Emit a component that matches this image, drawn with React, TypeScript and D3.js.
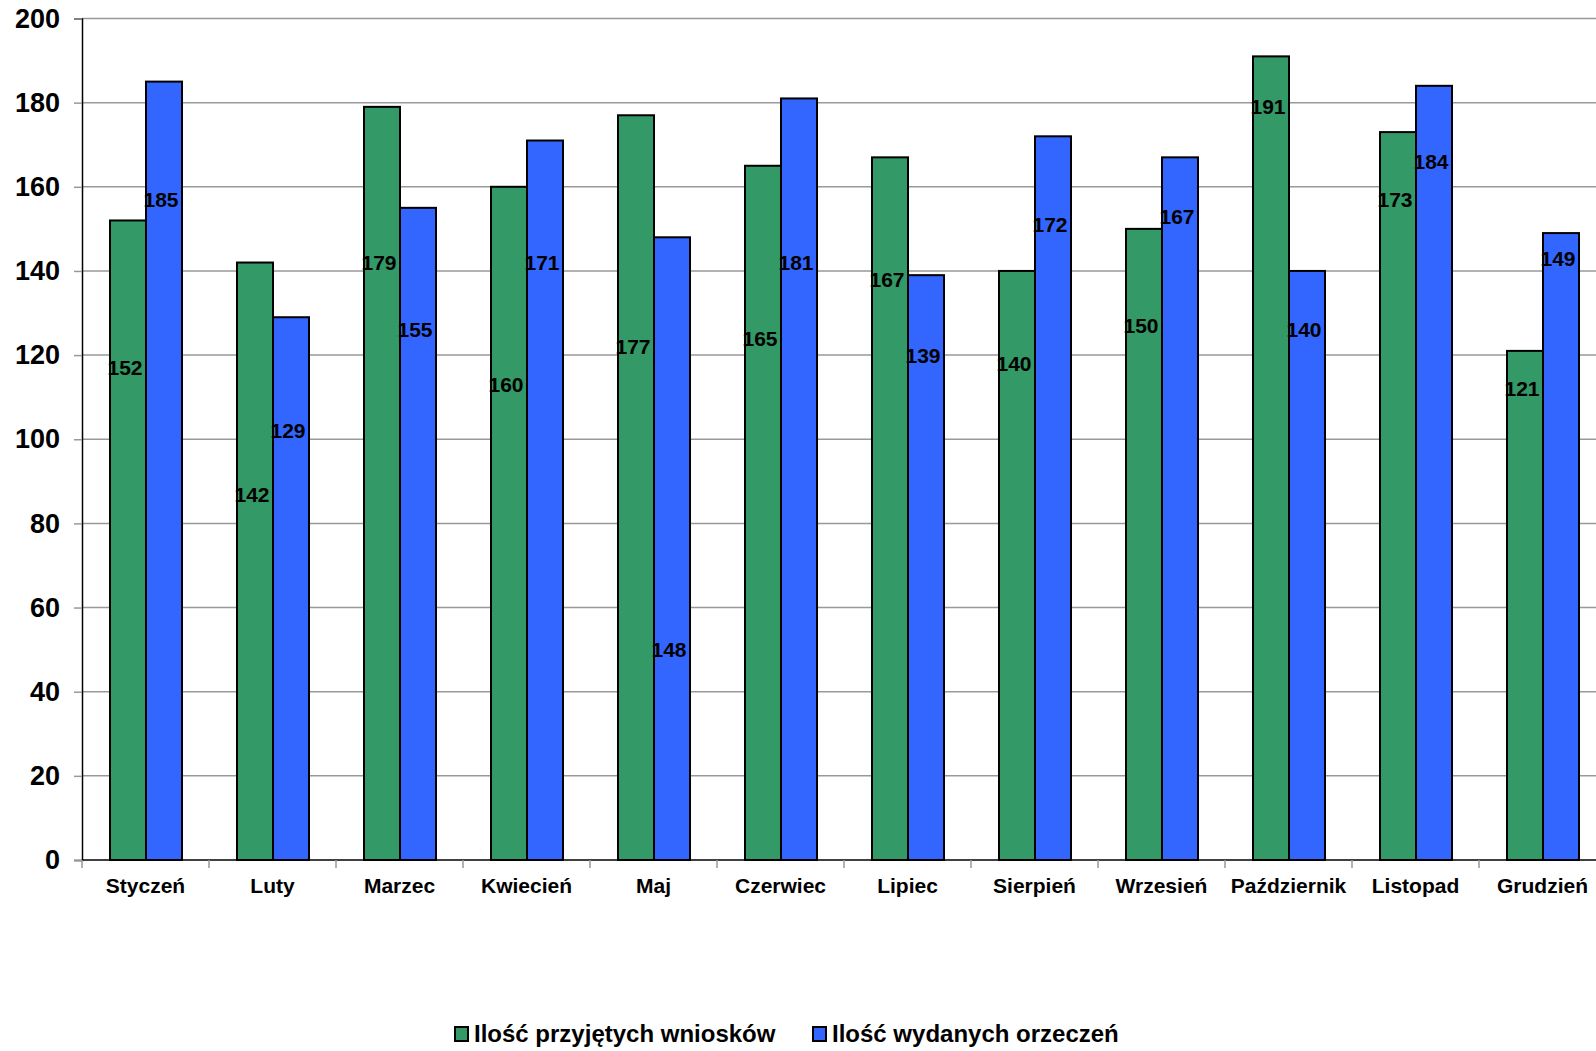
import * as d3 from "d3";
import { useEffect, useRef } from "react";

const months = [
  "Styczeń", "Luty", "Marzec", "Kwiecień", "Maj", "Czerwiec",
  "Lipiec", "Sierpień", "Wrzesień", "Październik", "Listopad", "Grudzień",
];
const przyjete = [152, 142, 179, 160, 177, 165, 167, 140, 150, 191, 173, 121];
const wydane = [185, 129, 155, 171, 148, 181, 139, 172, 167, 140, 184, 149];
// where Excel dropped the data labels (in value units)
const przyjeteLabelAt = [117, 87, 142, 113, 122, 124, 138, 118, 127, 179, 157, 112];
const wydaneLabelAt = [157, 102, 126, 142, 50, 142, 120, 151, 153, 126, 166, 143];
const seriesNames = ["Ilość przyjętych wniosków", "Ilość wydanych orzeczeń"];
const seriesColors = ["#339966", "#3366FF"];
const yTicks = [0, 20, 40, 60, 80, 100, 120, 140, 160, 180, 200];

const W = 1596;
const H = 1051;
const FONT = "'Liberation Sans', Arial, sans-serif";

const App = () => {
  const svgRef = useRef<SVGSVGElement | null>(null);

  useEffect(() => {
    const svg = d3.select(svgRef.current);
    svg.selectAll("*").remove();

    const left = 82;
    const band = 127;
    const top = 18.5;
    const bottom = 860;

    const x = d3.scaleBand<string>().domain(months).range([left, left + band * 12]);
    const x1 = d3.scaleBand<number>().domain([0, 1]).range([28, 100]);
    const y = d3.scaleLinear().domain([0, 200]).range([bottom, top]);

    // gridlines
    svg
      .append("g")
      .selectAll("line")
      .data(yTicks.filter((t) => t > 0))
      .enter()
      .append("line")
      .attr("x1", left)
      .attr("x2", W)
      .attr("y1", (d) => y(d))
      .attr("y2", (d) => y(d))
      .attr("stroke", "#999")
      .attr("stroke-width", 1.5);

    // y axis
    const gY = svg
      .append("g")
      .attr("transform", `translate(${left},0)`)
      .call(d3.axisLeft(y).tickValues(yTicks).tickSize(8).tickPadding(14));
    gY.select(".domain").attr("stroke", "#000").attr("stroke-width", 1.5);
    gY.selectAll(".tick line").attr("stroke", "#999").attr("stroke-width", 1.5);
    gY.selectAll("text")
      .attr("font-family", FONT)
      .attr("font-weight", "bold")
      .attr("font-size", 27)
      .attr("fill", "#000");

    // bars
    const data = months.map((m, i) => ({
      m,
      vals: [przyjete[i], wydane[i]],
      labels: [przyjeteLabelAt[i], wydaneLabelAt[i]],
    }));
    const groups = svg
      .append("g")
      .selectAll("g")
      .data(data)
      .enter()
      .append("g")
      .attr("transform", (d) => `translate(${x(d.m)},0)`);

    groups
      .selectAll("rect")
      .data((d) => d.vals.map((v, k) => ({ v, k })))
      .enter()
      .append("rect")
      .attr("x", (d) => x1(d.k) as number)
      .attr("width", x1.bandwidth())
      .attr("y", (d) => y(d.v))
      .attr("height", (d) => bottom - y(d.v))
      .attr("fill", (d) => seriesColors[d.k])
      .attr("stroke", "#000")
      .attr("stroke-width", 2);

    groups
      .selectAll("text")
      .data((d) => d.vals.map((v, k) => ({ v, k, at: d.labels[k] })))
      .enter()
      .append("text")
      .attr("x", (d) => (x1(d.k) as number) + x1.bandwidth() / 2 - 3)
      .attr("y", (d) => y(d.at))
      .attr("dy", "0.36em")
      .attr("text-anchor", "middle")
      .attr("font-family", FONT)
      .attr("font-weight", "bold")
      .attr("font-size", 21)
      .attr("fill", "#000")
      .text((d) => d.v);

    // x axis
    svg
      .append("line")
      .attr("x1", left)
      .attr("x2", W)
      .attr("y1", bottom)
      .attr("y2", bottom)
      .attr("stroke", "#000")
      .attr("stroke-width", 1.5);
    svg
      .append("g")
      .selectAll("line")
      .data(d3.range(0, 13))
      .enter()
      .append("line")
      .attr("x1", (i) => left + i * band)
      .attr("x2", (i) => left + i * band)
      .attr("y1", bottom)
      .attr("y2", bottom + 8)
      .attr("stroke", "#999")
      .attr("stroke-width", 1.5);
    svg
      .append("g")
      .selectAll("text")
      .data(months)
      .enter()
      .append("text")
      .attr("x", (d) => (x(d) as number) + band / 2)
      .attr("y", 893)
      .attr("text-anchor", "middle")
      .attr("font-family", FONT)
      .attr("font-weight", "bold")
      .attr("font-size", 21)
      .text((d) => d);

    // legend
    const legendX = [455, 813];
    const lg = svg
      .append("g")
      .selectAll("g")
      .data(seriesNames)
      .enter()
      .append("g")
      .attr("transform", (_, i) => `translate(${legendX[i]},1027)`);
    lg.append("rect")
      .attr("width", 13)
      .attr("height", 14)
      .attr("fill", (_, i) => seriesColors[i])
      .attr("stroke", "#000")
      .attr("stroke-width", 2);
    lg.append("text")
      .attr("x", 19)
      .attr("y", 15)
      .attr("font-family", FONT)
      .attr("font-weight", "bold")
      .attr("font-size", 24)
      .text((d) => d);
  }, []);

  return (
    <div style={{ position: "absolute", left: 0, top: 0, background: "#fff" }}>
      <svg ref={svgRef} width={W} height={H} style={{ display: "block" }}></svg>
    </div>
  );
};

export default App;
